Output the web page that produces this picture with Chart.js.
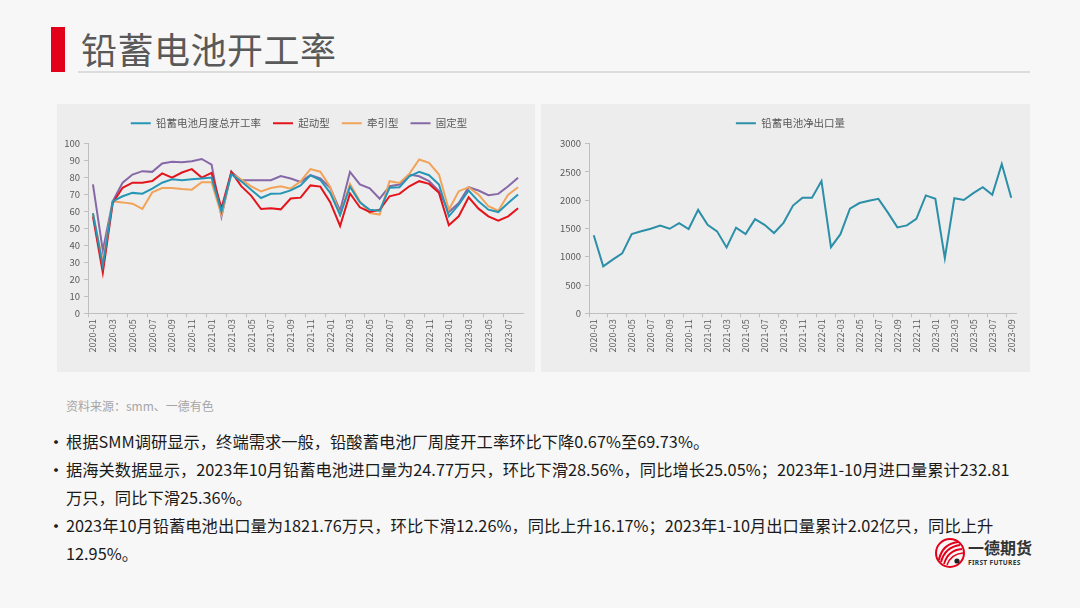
<!DOCTYPE html>
<html><head><meta charset="utf-8">
<script src="https://cdn.jsdelivr.net/npm/chart.js@4.4.0/dist/chart.umd.min.js"></script>
<style>
html,body{margin:0;padding:0;}
body{width:1080px;height:608px;background:#f7f7f7;position:relative;overflow:hidden;font-family:"Noto Sans CJK SC","Noto Sans",sans-serif;}
#bar{position:absolute;left:51px;top:27px;width:14px;height:45px;background:#e2001a;}
#title{position:absolute;left:81px;top:23px;font-size:36px;color:#595959;line-height:50px;white-space:nowrap;letter-spacing:0.5px;}
#rule{position:absolute;left:78px;top:71px;width:952px;height:2px;background:#dcdcdc;}
.panel{position:absolute;top:104px;height:268px;background:#eeeded;}
#p1{left:57px;width:478px;}
#p2{left:541px;width:489px;}
#src{position:absolute;left:66px;top:397px;font-size:12px;color:#a6a6a6;white-space:nowrap;}
.b{position:absolute;left:66px;font-size:16.3px;color:#1a1a1a;white-space:nowrap;line-height:20px;}
.dot{position:absolute;left:-19px;top:0;font-size:18px;}
#logo{position:absolute;left:930px;top:534px;}
</style>
</head><body>
<div id="bar"></div>
<div id="title">铅蓄电池开工率</div>
<div id="rule"></div>
<div class="panel" id="p1"><canvas id="c1" width="478" height="268"></canvas></div>
<div class="panel" id="p2"><canvas id="c2" width="489" height="268"></canvas></div>
<div id="src">资料来源：smm、一德有色</div>
<div class="b" style="top:431px"><span class="dot">•</span>根据SMM调研显示，终端需求一般，铅酸蓄电池厂周度开工率环比下降0.67%至69.73%。</div>
<div class="b" style="top:459px"><span class="dot">•</span>据海关数据显示，2023年10月铅蓄电池进口量为24.77万只，环比下滑28.56%，同比增长25.05%；2023年1-10月进口量累计232.81</div>
<div class="b" style="top:487px">万只，同比下滑25.36%。</div>
<div class="b" style="top:515px"><span class="dot">•</span>2023年10月铅蓄电池出口量为1821.76万只，环比下滑12.26%，同比上升16.17%；2023年1-10月出口量累计2.02亿只，同比上升</div>
<div class="b" style="top:543px">12.95%。</div>
<svg id="logo" width="110" height="40" viewBox="0 0 110 40">
  <circle cx="20" cy="19" r="14" fill="none" stroke="#e2001a" stroke-width="2"/>
  <path d="M9 26 Q12 10 28 8" fill="none" stroke="#e2001a" stroke-width="2.2"/>
  <path d="M11 28 Q15 13 30 11" fill="none" stroke="#e2001a" stroke-width="2"/>
  <path d="M14 30 Q18 16 32 15" fill="none" stroke="#e2001a" stroke-width="1.8"/>
  <path d="M17 31 Q21 20 33 19" fill="none" stroke="#e2001a" stroke-width="1.5"/>
  <circle cx="27" cy="27" r="2.6" fill="#222"/>
  <text x="38" y="20" font-family="Noto Sans CJK SC" font-weight="700" font-size="16" fill="#333">一德期货</text>
  <text x="38" y="31" font-family="Noto Sans" font-weight="700" font-size="6.6" fill="#333" letter-spacing="0.3">FIRST FUTURES</text>
</svg>
<script>
const months = ["2020-01","2020-02","2020-03","2020-04","2020-05","2020-06","2020-07","2020-08","2020-09","2020-10","2020-11","2020-12",
"2021-01","2021-02","2021-03","2021-04","2021-05","2021-06","2021-07","2021-08","2021-09","2021-10","2021-11","2021-12",
"2022-01","2022-02","2022-03","2022-04","2022-05","2022-06","2022-07","2022-08","2022-09","2022-10","2022-11","2022-12",
"2023-01","2023-02","2023-03","2023-04","2023-05","2023-06","2023-07","2023-08","2023-09"];
const rateMonths = months.slice(0, 44);
const totalRate = [59,28,66,69,71,70.5,73.5,77,79,78.5,79,79.5,80,60,82,77.8,72.9,68,70.5,70.6,72.5,75.4,81.3,78.6,71,58,74.6,65.5,61,60.5,74,74.3,80.8,83.4,81.4,75.9,57.2,64.1,72.4,66,61.1,59.7,65,70];
const startRate = [57,24,65,74,77,77,78,82.5,80,83,85,80,82.8,62,83.4,75,69.4,61.5,62,61.3,67.7,68.2,75.4,74.7,65.5,51.5,70.7,62.5,59.8,61,69,70.4,74.9,77.9,76.3,71,51.9,57.2,68.4,61.7,57.2,54.6,57.2,62];
const tractionRate = [59,30,66,65.4,64.6,61.5,71.3,73.9,73.9,73.3,72.9,77.3,77.3,58,82.5,78.8,74.9,71.9,73.9,74.9,73.5,77.8,85,83.5,74.5,58,76.3,66,59.1,58.2,77.9,76.9,82.2,90.7,88.7,81.8,61.1,72,74.3,70,63.1,60.5,70,74.3];
const fixedRate = [76,37,66,77,81.8,83.8,83.4,88.3,89.3,89,89.7,91,87.7,57,83.4,78.5,78.4,78.4,78.5,80.9,79.5,77.5,81.5,79.5,74,60.5,83.4,76,73.7,67.6,74.9,75.9,81.8,80.8,77.9,72,59.7,65,74.3,72.4,69.6,70.4,74.9,79.9];
const netExport = [1380,830,950,1060,1400,1450,1495,1550,1495,1595,1490,1830,1565,1450,1165,1515,1400,1665,1565,1420,1600,1905,2045,2045,2340,1170,1400,1850,1950,1990,2025,1780,1520,1555,1670,2085,2025,975,2035,2005,2125,2230,2095,2640,2045];
const rateTicks = [0,10,20,30,40,50,60,70,80,90,100];
const exportTicks = [0,500,1000,1500,2000,2500,3000];

const gray = '#595959', axisC = '#bfbfbf';
Chart.defaults.font.family = '"Noto Sans CJK SC","Noto Sans",sans-serif';

const shiftLegend = {
  id: 'shiftLegend',
  afterLayout(chart, args, o){
    if (chart.legend && o && o.dx) { chart.legend.left += o.dx; chart.legend.right += o.dx; }
  }
};

function ds(label, data, color){
  return {label, data, borderColor: color, backgroundColor: color, borderWidth: 2, pointRadius: 0, tension: 0, fill: false};
}
function opts(ticks, yW, xH, padR, padTop, dx){
  return {
    responsive: false, animation: false,
    layout: {padding: {top: padTop, right: padR, left: 0, bottom: 0}},
    plugins: {
      tooltip: {enabled: false},
      shiftLegend: {dx},
      subtitle: {display: true, text: '', weight: 500, font: {size: 1}, padding: {top: 2, bottom: 2}},
      legend: {
        position: 'top',
        labels: {
          boxWidth: 20, boxHeight: 2, padding: 12, color: gray, font: {size: 10.5},
          generateLabels(chart){
            return chart.data.datasets.map((d,i)=>({text: d.label, fillStyle: d.borderColor, strokeStyle: 'rgba(0,0,0,0)', lineWidth: 1, hidden: false, datasetIndex: i, fontColor: gray}));
          }
        }
      }
    },
    scales: {
      x: {
        type: 'category', offset: true,
        border: {display: true, color: axisC, width: 1},
        grid: {display: true, drawOnChartArea: false, drawTicks: true, tickLength: 4, offset: true,
               color: c => (c.index % 2 === 0 ? axisC : 'rgba(0,0,0,0)')},
        ticks: {autoSkip: false, maxRotation: 90, minRotation: 90, color: gray, font: {size: 9}, padding: 2,
                callback(v, i){ return i % 2 === 0 ? this.getLabelForValue(v) : ''; }},
        afterFit(s){ s.height = xH; }
      },
      y: {
        min: ticks[0], max: ticks[ticks.length-1],
        afterBuildTicks(s){ s.ticks = ticks.map(v => ({value: v})); },
        border: {display: true, color: axisC, width: 1},
        grid: {display: true, drawOnChartArea: false, drawTicks: true, tickLength: 4, color: axisC},
        ticks: {color: gray, font: {size: 9.5}, padding: 4, callback: v => String(v)},
        afterFit(s){ s.width = yW; }
      }
    }
  };
}

new Chart(document.getElementById('c1'), {
  type: 'line',
  plugins: [shiftLegend],
  data: {labels: rateMonths, datasets: [
    ds('铅蓄电池月度总开工率', totalRate, '#2596b6'),
    ds('起动型', startRate, '#e3141c'),
    ds('牵引型', tractionRate, '#f2a35a'),
    ds('固定型', fixedRate, '#8668a8')
  ]},
  options: opts(rateTicks, 31, 58.7, 12, 2, 9)
});
new Chart(document.getElementById('c2'), {
  type: 'line',
  plugins: [shiftLegend],
  data: {labels: months, datasets: [ds('铅蓄电池净出口量', netExport, '#2b8fa8')]},
  options: opts(exportTicks, 48, 58.7, 14, 2, 12)
});
</script>
</body></html>
